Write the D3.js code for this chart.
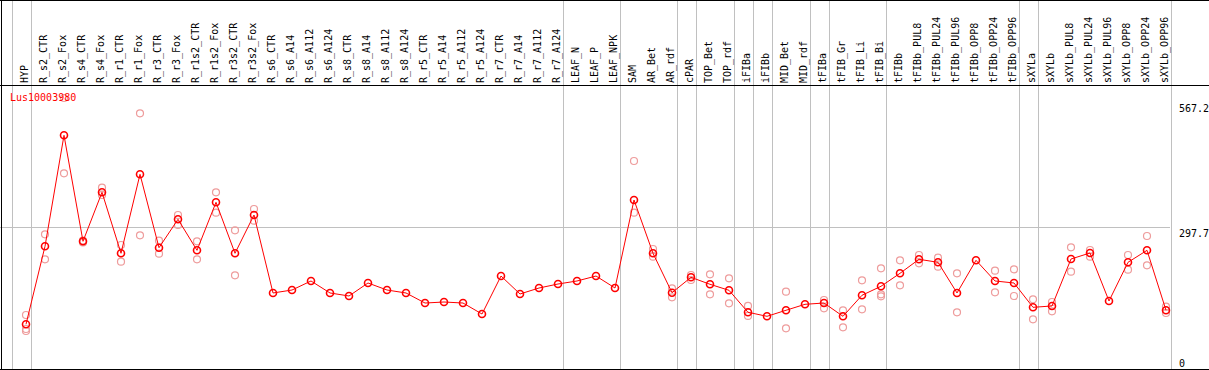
<!DOCTYPE html>
<html>
<head>
<meta charset="utf-8">
<script src="https://cdn.jsdelivr.net/npm/d3@7"></script>
<style>
  body { margin: 0; background: #fff; }
  svg { display: block; }
  text { font-family: "DejaVu Sans Mono", monospace; font-size: 10px; }
</style>
</head>
<body>
<div id="chart"></div>
<script>
const geneName = 'Lus10003980';

const categories = [
    'HYP', 'R_s2_CTR', 'R_s2_Fox', 'R_s4_CTR', 'R_s4_Fox', 'R_r1_CTR', 'R_r1_Fox',
    'R_r3_CTR', 'R_r3_Fox', 'R_r1s2_CTR', 'R_r1s2_Fox', 'R_r3s2_CTR', 'R_r3s2_Fox',
    'R_s6_CTR', 'R_s6_A14', 'R_s6_A112', 'R_s6_A124', 'R_s8_CTR', 'R_s8_A14', 'R_s8_A112',
    'R_s8_A124', 'R_r5_CTR', 'R_r5_A14', 'R_r5_A112', 'R_r5_A124', 'R_r7_CTR', 'R_r7_A14',
    'R_r7_A112', 'R_r7_A124', 'LEAF_N', 'LEAF_P', 'LEAF_NPK', 'SAM', 'AR_Bet', 'AR_rdf',
    'cPAR', 'TOP_Bet', 'TOP_rdf', 'iFIBa', 'iFIBb', 'MID_Bet', 'MID_rdf', 'tFIBa', 'tFIB_Gr',
    'tFIB_Li', 'tFIB_Bi', 'tFIBb', 'tFIBb_PUL8', 'tFIBb_PUL24', 'tFIBb_PUL96', 'tFIBb_OPP8',
    'tFIBb_OPP24', 'tFIBb_OPP96', 'sXYLa', 'sXYLb', 'sXYLb_PUL8', 'sXYLb_PUL24',
    'sXYLb_PUL96', 'sXYLb_OPP8', 'sXYLb_OPP24', 'sXYLb_OPP96'
];

// mean expression per sample
const means = [
    93.6, 256.8, 489.1, 267.3, 369.8, 242.2, 407.5, 253.9, 313.3, 248.4, 348.9, 242.2, 322.3,
    159.1, 165.3, 184.2, 159.1, 152.8, 180.0, 165.3, 159.1, 138.1, 140.2, 138.1, 115.1,
    194.6, 157.0, 169.5, 177.9, 184.2, 194.6, 169.5, 353.7, 242.2, 159.7, 191.9, 177.3,
    164.7, 118.7, 110.3, 122.9, 135.4, 138.1, 110.3, 154.3, 173.1, 200.3, 229.6, 223.3,
    159.1, 227.5, 184.2, 180.0, 129.1, 131.9, 230.2, 242.8, 142.3, 223.3, 248.4, 122.9
];

// individual replicates (empty when only one sample)
const replicates = [
    [113.0, 83.7, 79.5], [281.9, 229.6], [567.2, 409.6], [265, 269], [379.5, 364.2],
    [259.5, 224.6], [535.2, 279.8], [268.5, 241.3], [322.3, 301.4], [267.3, 229.6],
    [369.8, 327.1], [290.3, 196.1], [334.9, 310.4],
    [], [], [], [], [], [], [], [], [], [], [], [], [], [], [], [], [], [], [],
    [435.3, 327.1], [251.2, 235.0], [168.9, 150.1], [196.7, 186.3], [198.2, 156.3],
    [189.8, 137.5], [132.0, 111.0], [], [161.8, 85.2], [], [144.4, 127.0], [122.9, 87.3],
    [185.6, 125.0], [210.8, 156.3, 152.1], [227.5, 175.2], [238.6, 221.2], [233.0, 214.1],
    [200.3, 118.7], [], [205.7, 160.5], [208.7, 152.8], [145.9, 104.0], [140.2, 120.8],
    [254.7, 203.6], [249.1, 235.0], [], [238.6, 207.8], [278.4, 217.0], [130.4, 117.2]
];

// last sample of each group, a grey divider follows it
const groupEnds = ['HYP', 'R_r7_A124', 'LEAF_NPK', 'AR_rdf', 'cPAR', 'TOP_rdf', 'iFIBa',
    'iFIBb', 'MID_rdf', 'tFIBa', 'tFIB_Bi', 'tFIBb_OPP96', 'sXYLa', 'sXYLb_OPP96'];

const tickValues = [0, 297.7, 567.2];

const width = 1209;
const height = 370;
const headerBottom = 85;
const plotBottom = 369;
const plotRight = 1170;

const svg = d3.select('#chart')
    .append('svg')
    .attr('width', width)
    .attr('height', height);

const x = d3.scalePoint()
    .domain(categories)
    .range([26, 1166]);

const y = d3.scaleLinear()
    .domain([0, 567.2])
    .range([plotBottom, 98]);

// dividers
const dividers = [x(categories[0]) - x.step()].concat(groupEnds.map(c => x(c)))
    .map(v => Math.round(v + 4.5) + 0.5);

svg.append('g')
    .selectAll('line')
    .data(dividers)
    .enter()
    .append('line')
    .attr('x1', d => d).attr('x2', d => d)
    .attr('y1', 0).attr('y2', plotBottom)
    .attr('stroke', '#c0c0c0');

// horizontal reference line
svg.append('line')
    .attr('x1', 0).attr('x2', plotRight)
    .attr('y1', Math.round(y(297.7)) + 0.5).attr('y2', Math.round(y(297.7)) + 0.5)
    .attr('stroke', '#c0c0c0');

// frame
svg.append('g')
    .attr('stroke', '#000')
    .selectAll('line')
    .data([[0, 0.5, width, 0.5], [0, headerBottom + 0.5, width, headerBottom + 0.5],
           [0, plotBottom + 0.5, width, plotBottom + 0.5], [1.5, 0, 1.5, height]])
    .enter()
    .append('line')
    .attr('x1', d => d[0]).attr('y1', d => d[1])
    .attr('x2', d => d[2]).attr('y2', d => d[3]);

// sample labels
svg.append('g')
    .selectAll('text')
    .data(categories)
    .enter()
    .append('text')
    .attr('transform', d => `translate(${x(d) + 2}, ${headerBottom - 2}) rotate(-90)`)
    .attr('fill', '#000')
    .text(d => d);

// replicates
const reps = [];
replicates.forEach((arr, i) => arr.forEach(v => reps.push([categories[i], v])));

svg.append('g')
    .selectAll('circle')
    .data(reps)
    .enter()
    .append('circle')
    .attr('cx', d => x(d[0]))
    .attr('cy', d => y(d[1]))
    .attr('r', 3.5)
    .attr('fill', 'none')
    .attr('stroke', '#ee9c9c')
    .attr('stroke-width', 1.2);

// mean line
const line = d3.line()
    .x((d, i) => x(categories[i]))
    .y(d => y(d));

svg.append('path')
    .datum(means)
    .attr('d', line)
    .attr('fill', 'none')
    .attr('stroke', '#ff0000')
    .attr('stroke-width', 1);

svg.append('g')
    .selectAll('circle')
    .data(means)
    .enter()
    .append('circle')
    .attr('cx', (d, i) => x(categories[i]))
    .attr('cy', d => y(d))
    .attr('r', 3.5)
    .attr('fill', 'none')
    .attr('stroke', '#ff0000')
    .attr('stroke-width', 1.6);

// gene name
svg.append('text')
    .attr('x', 10)
    .attr('y', 101)
    .attr('fill', '#ff0000')
    .text(geneName);

// value axis
const axis = d3.axisRight(y)
    .tickValues(tickValues)
    .tickSize(0)
    .tickPadding(9)
    .tickFormat(d => d === 0 ? '0' : d3.format('.1f')(d));

const axisG = svg.append('g')
    .attr('transform', `translate(${plotRight}, 0)`)
    .call(axis);

axisG.select('.domain').remove();
axisG.selectAll('text')
    .attr('font-family', '"DejaVu Sans Mono", monospace')
    .attr('font-size', 10)
    .attr('fill', '#000')
    .attr('dy', d => d === 0 ? '-3px' : (d === 567.2 ? '13px' : '10px'));
</script>
</body>
</html>
